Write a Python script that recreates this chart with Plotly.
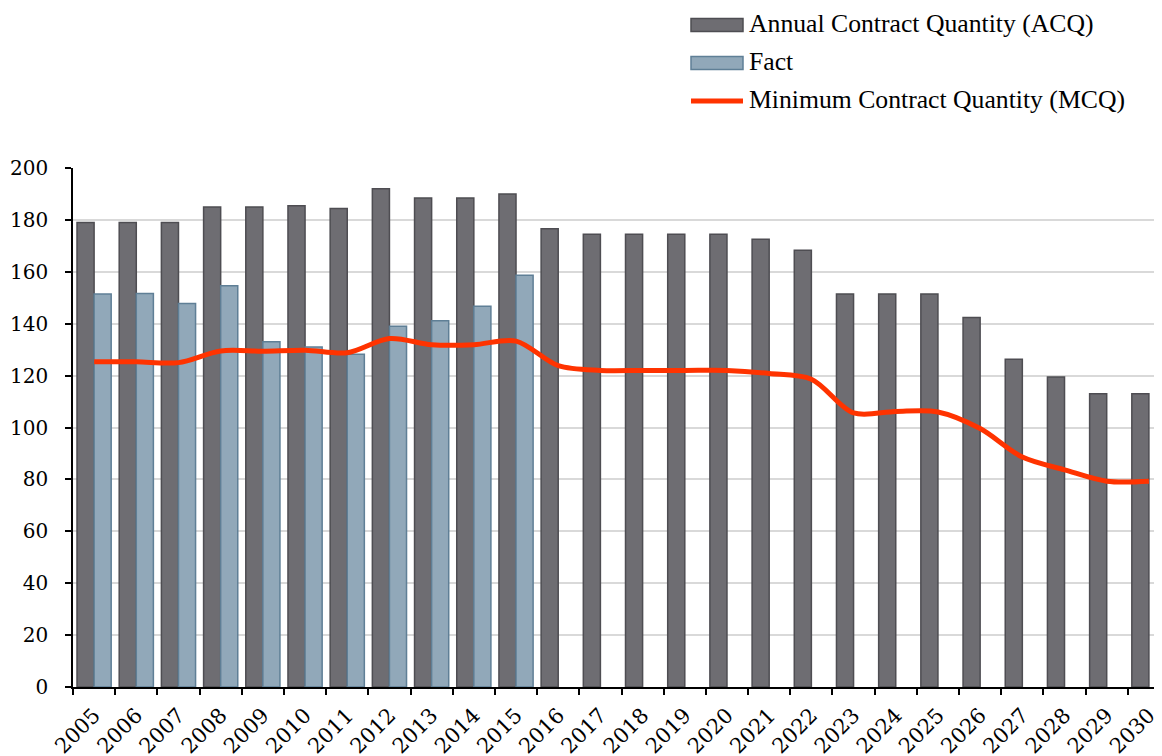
import plotly.graph_objects as go

years = [str(y) for y in range(2005, 2031)]
acq = [179, 179, 179, 185, 185, 185.5, 184.4, 192, 188.4, 188.4, 190, 176.6,
       174.5, 174.5, 174.5, 174.5, 172.5, 168.3, 151.4, 151.4, 151.4, 142.4,
       126.3, 119.5, 113, 113]
fact = [151.4, 151.6, 147.8, 154.6, 133.0, 131.0, 128.2, 139.0, 141.1, 146.7, 158.7] + [None] * 15
mcq = [125.3, 125.3, 125, 129.5, 129.4, 129.8, 128.8, 134.3, 131.9, 131.9, 133.3, 123.8,
       122, 122, 122, 122, 120.8, 118.6, 105.6, 106.2, 106.0, 99.6, 88.6, 83.7, 79.3, 79.3]
yticks = list(range(0, 201, 20))

names = ["Annual Contract Quantity (ACQ)", "Fact", "Minimum Contract Quantity (MCQ)"]
FONT = "Liberation Serif, serif"
TICKFONT = "DejaVu Serif, serif"
# the page body adds an 8px offset; layout is expressed in screen pixels minus 8
OFF = 8
W, H = 1162, 756
L, R, T = 73 - OFF, 0, 168 - OFF
B = H - (687 - OFF)
C_ACQ, C_ACQ_L = "#6e6d72", "#4e4d52"
C_FACT, C_FACT_L = "#91a8b9", "#5f7f96"
C_MCQ = "#ff3300"

fig = go.Figure()
fig.add_trace(go.Bar(x=years, y=acq, name=names[0], marker=dict(color=C_ACQ, line=dict(color=C_ACQ_L, width=1.5))))
fig.add_trace(go.Bar(x=years, y=fact, name=names[1], marker=dict(color=C_FACT, line=dict(color=C_FACT_L, width=1.5))))
fig.add_trace(go.Scatter(x=years, y=mcq, name=names[2], mode="lines",
                         line=dict(color=C_MCQ, width=5, shape="spline", smoothing=0.9)))

pw, ph = W - L - R, H - T - B
def px(x):
    return (x - OFF - L) / pw
def py(y):
    return (H - B - (y - OFF)) / ph

# custom legend (wide swatches like the original)
shapes = []
annotations = []
rows = [25, 63, 101]
for i, (nm, yy) in enumerate(zip(names, rows)):
    if i < 2:
        fc, lc = (C_ACQ, C_ACQ_L) if i == 0 else (C_FACT, C_FACT_L)
        shapes.append(dict(type="rect", xref="paper", yref="paper",
                           x0=px(691), x1=px(743), y0=py(yy - 6.5), y1=py(yy + 6.5),
                           fillcolor=fc, line=dict(color=lc, width=1.5)))
    else:
        shapes.append(dict(type="line", xref="paper", yref="paper",
                           x0=px(691), x1=px(743), y0=py(yy), y1=py(yy),
                           line=dict(color=C_MCQ, width=5)))
    annotations.append(dict(text=nm, xref="paper", yref="paper", x=px(747), y=py(yy - 1),
                            xanchor="left", yanchor="middle", showarrow=False,
                            font=dict(family=FONT, size=25.7, color="#000")))

ytf = dict(family=TICKFONT, size=20, color="#000")
xtf = dict(family=TICKFONT, size=21, color="#000")
fig.update_layout(
    width=W, height=H,
    margin=dict(l=L, r=R, t=T, b=B, autoexpand=False),
    paper_bgcolor="white", plot_bgcolor="white",
    barmode="group", bargap=0.19, bargroupgap=0,
    showlegend=False,
    font=dict(family=FONT, size=24, color="#000"),
    shapes=shapes, annotations=annotations,
    xaxis=dict(type="category", range=[-0.5, 25.5], tickson="boundaries",
               ticks="outside", ticklen=6, tickwidth=1.5, tickcolor="#000",
               showline=True, linecolor="#000", linewidth=1.5, automargin=False,
               showgrid=False, tickangle=-45, tickfont=xtf, ticklabelstandoff=6),
    yaxis=dict(range=[0, 200], tickvals=yticks, ticks="outside", ticklen=6,
               tickwidth=1.5, tickcolor="#000", showline=True, linecolor="#000",
               linewidth=1.5, showgrid=True, gridcolor="#d9d9d9", gridwidth=1.5,
               zeroline=False, tickfont=ytf, ticklabelstandoff=13, automargin=False),
)
fig.write_html("out.html")
